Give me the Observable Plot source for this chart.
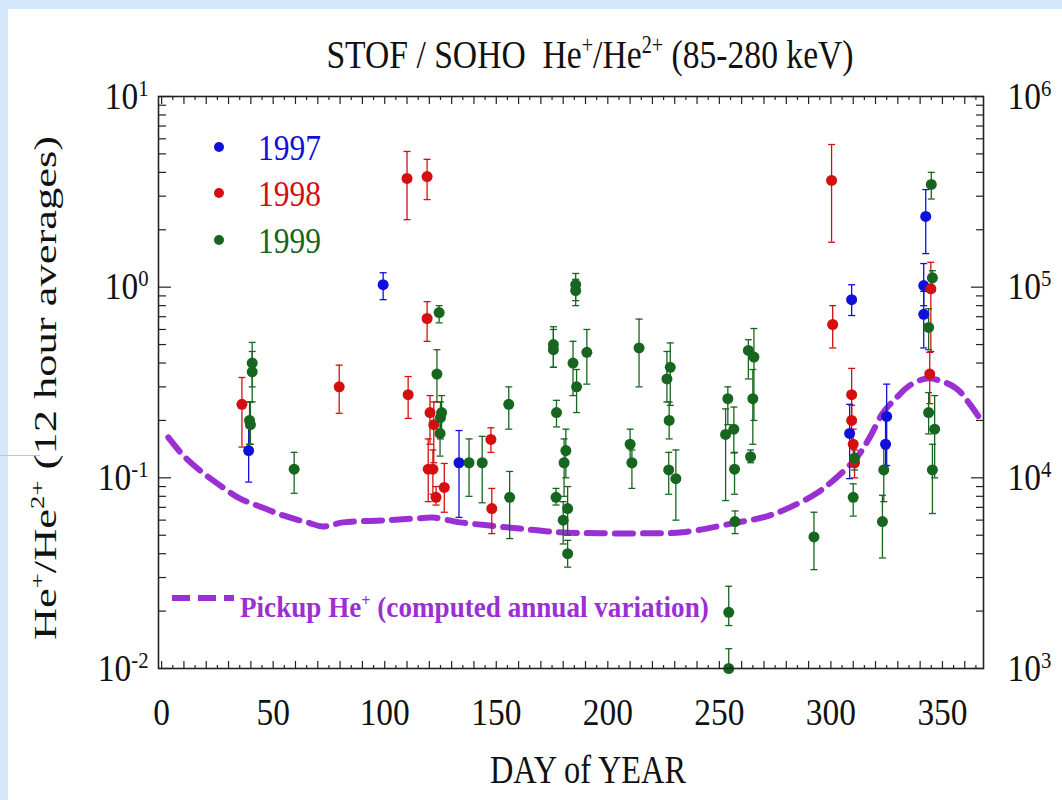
<!DOCTYPE html>
<html><head><meta charset="utf-8">
<script src="https://cdn.jsdelivr.net/npm/d3@7"></script>
<script src="https://cdn.jsdelivr.net/npm/@observablehq/plot@0.6"></script>
<style>
html,body{margin:0;padding:0;}
body{width:1062px;height:800px;position:relative;overflow:hidden;background:#d4e7fb;font-family:"Liberation Serif","Times New Roman",serif;}
#panel{position:absolute;left:8px;top:9px;width:1054px;height:791px;background:#fff;}
#glitch{position:absolute;left:0;top:455px;width:40px;height:1px;background:#a9c9ef;}
#chart{position:absolute;left:0;top:0;width:1062px;height:800px;}
.t{position:absolute;white-space:nowrap;line-height:1;color:#111;}
.t sup{font-size:0.6em;line-height:0;vertical-align:0.6em;}
#title{left:590px;top:54px;font-size:41px;transform:translate(-50%,-50%) scale(0.82,1);}
#xtitle{left:588px;top:769px;font-size:39px;transform:translate(-50%,-50%) scale(0.83,1);}
#ytitle{left:45px;top:388px;font-size:32px;transform:translate(-50%,-50%) rotate(-90deg) scale(1.39,1);}
.yr{font-size:35px;left:258px;transform:translate(0,-50%) scale(0.9,1);transform-origin:left center;}
.ld{position:absolute;width:10px;height:10px;border-radius:50%;transform:translate(-50%,-50%);}
#pick{left:240px;top:607px;font-size:29px;font-weight:bold;color:#9a30d4;transform:translate(0,-50%) scale(0.935,1);transform-origin:left center;}
#pickline{position:absolute;left:172px;top:592px;}
</style></head>
<body>
<div id="panel"></div>
<div id="glitch"></div>
<div id="chart"></div>
<div class="t" id="title">STOF / SOHO&nbsp; He<sup>+</sup>/He<sup>2+</sup> (85-280 keV)</div>
<div class="t" id="xtitle">DAY of YEAR</div>
<div class="t" id="ytitle">He<sup>+</sup>/He<sup>2+</sup> (12 hour averages)</div>
<div class="ld" style="left:219px;top:147px;background:#1010dc"></div>
<div class="ld" style="left:219px;top:193px;background:#d40f0f"></div>
<div class="ld" style="left:219px;top:240px;background:#17661f"></div>
<div class="t yr" style="top:148px;color:#1010dc">1997</div>
<div class="t yr" style="top:194px;color:#d40f0f">1998</div>
<div class="t yr" style="top:241px;color:#17661f">1999</div>
<svg id="pickline" width="64" height="12"><line x1="0" y1="6" x2="62" y2="6" stroke="#9a30d4" stroke-width="6" stroke-dasharray="18,8"/></svg>
<div class="t" id="pick">Pickup He<sup>+</sup> (computed annual variation)</div>
<script>
// ---- data ----
const years = ["1997", "1998", "1999"];
const yearColors = ["#1010dc", "#d40f0f", "#17661f"];

const day1997 = [39, 99.3, 133.3, 308.4, 309.3, 325, 324.5, 341.6, 341.6, 342.5];
const val1997 = [0.139, 1.03, 0.12, 0.171, 0.86, 0.21, 0.15, 1.02, 0.72, 2.35];
const lo1997  = [0.095, 0.86, 0.062, 0.099, 0.71, 0.116, 0.116, 0.80, 0.48, 1.5];
const hi1997  = [0.20, 1.19, 0.177, 0.243, 1.03, 0.31, 0.21, 1.33, 0.95, 3.25];

const day1998 = [36, 79.6, 110, 110.5, 119, 119, 120.3, 122, 119.5, 121.6, 123, 126.7, 147.6, 148, 300.3, 300.8, 309.3, 309.3, 310, 310.6, 344.8, 344.3];
const val1998 = [0.243, 0.30, 3.72, 0.273, 3.80, 0.685, 0.22, 0.19, 0.111, 0.111, 0.079, 0.089, 0.159, 0.069, 3.63, 0.637, 0.273, 0.20, 0.15, 0.12, 0.98, 0.35];
const lo1998  = [0.145, 0.218, 2.26, 0.205, 2.88, 0.52, 0.15, 0.12, 0.075, 0.082, 0.072, 0.066, 0.136, 0.051, 1.72, 0.48, 0.20, 0.15, 0.12, 0.10, 0.46, 0.245];
const hi1998  = [0.336, 0.39, 5.15, 0.34, 4.68, 0.84, 0.27, 0.25, 0.16, 0.14, 0.09, 0.119, 0.183, 0.088, 5.6, 0.80, 0.375, 0.24, 0.18, 0.14, 1.35, 0.455];

const day1999 = [40.6, 40.6, 39.4, 39.8, 59.4, 124.4, 123.4, 125.5, 125, 124.8, 137.8, 143.7, 155.6, 156, 175.6, 175.6, 177, 176.8, 185.6, 185.6, 184.4, 186, 190.6, 181.2, 180.4, 182, 180, 182, 214, 210, 210.8, 226.5, 228, 227.5, 227.3, 230.5, 253.8, 252.8, 256.5, 256.8, 257, 254.2, 254.2, 263, 265.5, 265, 264, 292.4, 310.6, 310, 323.7, 323.1, 345, 345.5, 343.8, 343.8, 346.5, 345.5];
const val1999 = [0.40, 0.36, 0.20, 0.19, 0.111, 0.736, 0.35, 0.22, 0.207, 0.171, 0.12, 0.12, 0.243, 0.079, 0.50, 0.47, 0.22, 0.079, 1.03, 0.96, 0.40, 0.30, 0.455, 0.139, 0.12, 0.069, 0.06, 0.04, 0.48, 0.15, 0.12, 0.33, 0.38, 0.20, 0.11, 0.099, 0.26, 0.169, 0.18, 0.111, 0.059, 0.0197, 0.01, 0.466, 0.43, 0.26, 0.129, 0.049, 0.127, 0.079, 0.11, 0.059, 3.46, 1.12, 0.615, 0.22, 0.18, 0.11];
const lo1999  = [0.30, 0.25, 0.15, 0.15, 0.083, 0.65, 0.25, 0.17, 0.16, 0.13, 0.08, 0.074, 0.18, 0.048, 0.38, 0.38, 0.185, 0.072, 0.85, 0.80, 0.27, 0.22, 0.31, 0.10, 0.08, 0.05, 0.045, 0.034, 0.30, 0.12, 0.088, 0.25, 0.24, 0.16, 0.082, 0.06, 0.19, 0.076, 0.135, 0.082, 0.051, 0.0168, 0.01, 0.33, 0.20, 0.15, 0.12, 0.033, 0.11, 0.063, 0.075, 0.038, 2.9, 0.95, 0.47, 0.17, 0.10, 0.065];
const hi1999  = [0.513, 0.46, 0.25, 0.25, 0.136, 0.80, 0.47, 0.27, 0.25, 0.22, 0.16, 0.165, 0.30, 0.108, 0.62, 0.60, 0.255, 0.088, 1.18, 1.10, 0.52, 0.37, 0.60, 0.18, 0.16, 0.09, 0.075, 0.047, 0.68, 0.18, 0.14, 0.46, 0.51, 0.25, 0.136, 0.14, 0.30, 0.23, 0.235, 0.136, 0.067, 0.027, 0.0127, 0.53, 0.607, 0.37, 0.14, 0.066, 0.15, 0.093, 0.15, 0.081, 4.0, 1.22, 0.77, 0.28, 0.27, 0.15];

const pickupDay = [3, 9.7, 17.3, 26.3, 35, 42.8, 54.5, 65.2, 72.4, 81.4, 99.3, 114.5, 121.7, 133.8, 147, 160.6, 178.5, 196.4, 218.8, 233.6, 256, 271.3, 281.6, 293.6, 302.6, 311.6, 317.4, 323.2, 329.5, 335.3, 342.9, 348.7, 356.3, 362.1, 368];
const pickupVal = [0.163, 0.131, 0.109, 0.091, 0.078, 0.0716, 0.0635, 0.0584, 0.0556, 0.0584, 0.0598, 0.0613, 0.0619, 0.0584, 0.0562, 0.0542, 0.0518, 0.0512, 0.0512, 0.0518, 0.0577, 0.0628, 0.070, 0.083, 0.1005, 0.128, 0.163, 0.218, 0.264, 0.305, 0.332, 0.324, 0.294, 0.245, 0.195];

const xLabelTicks = [0, 50, 100, 150, 200, 250, 300, 350];
const xMajorTicks = [0,10,20,30,40,50,60,70,80,90,100,110,120,130,140,150,160,170,180,190,200,210,220,230,240,250,260,270,280,290,300,310,320,330,340,350,360];
const xMinorTicks = [5,15,25,35,45,55,65,75,85,95,105,115,125,135,145,155,165,175,185,195,205,215,225,235,245,255,265,275,285,295,305,315,325,335,345,355,365];
const yMajorTicks = [0.01, 0.1, 1, 10];
const yMinorTicks = [0.02,0.03,0.04,0.05,0.06,0.07,0.08,0.09,0.2,0.3,0.4,0.5,0.6,0.7,0.8,0.9,2,3,4,5,6,7,8,9];
const yLeftLabels = ["10^-2", "10^-1", "10^0", "10^1"];
const yRightLabels = ["10^3", "10^4", "10^5", "10^6"];

// ---- build table ----
function rows(days, vals, lo, hi, yi) {
  return days.map((d, i) => ({day: d, v: vals[i], lo: lo[i], hi: hi[i], color: yearColors[yi]}));
}
const points = [
  ...rows(day1997, val1997, lo1997, hi1997, 0),
  ...rows(day1998, val1998, lo1998, hi1998, 1),
  ...rows(day1999, val1999, lo1999, hi1999, 2)
];
const pickup = pickupDay.map((d, i) => ({day: d, v: pickupVal[i]}));

const capSymbol = {draw(ctx, size) { const r = Math.sqrt(size / Math.PI); ctx.moveTo(-r, 0); ctx.lineTo(r, 0); }};
const font = "Liberation Serif";
const leftFmt = d => yLeftLabels[yMajorTicks.indexOf(d)];
const rightFmt = d => yRightLabels[yMajorTicks.indexOf(d)];
const blank = () => "";

const W = 1062, H = 800, mL = 158, mR = 79, mT = 96, mB = 132;
const FW = W - mL - mR, FH = H - mT - mB;   // frame size in px (for inward ticks)
const tk = {tickFormat: blank, label: null, stroke: "#222", strokeWidth: 1.2};

const chart = Plot.plot({
  width: W, height: H,
  marginLeft: mL, marginRight: mR, marginTop: mT, marginBottom: mB,
  style: {background: "transparent", fontFamily: font, overflow: "visible"},
  x: {domain: [-1.4, 368.4]},
  y: {type: "log", domain: [0.01, 10]},
  color: {type: "identity"},
  marks: [
    Plot.line(pickup, {x: "day", y: "v", stroke: "#9a30d4", strokeWidth: 6, strokeDasharray: "18,10", curve: "catmull-rom"}),
    Plot.ruleX(points, {x: "day", y1: "lo", y2: "hi", stroke: "color", strokeWidth: 1.3}),
    Plot.dot(points, {x: "day", y: "lo", symbol: capSymbol, r: 3.5, stroke: "color", fill: "none", strokeWidth: 1.3}),
    Plot.dot(points, {x: "day", y: "hi", symbol: capSymbol, r: 3.5, stroke: "color", fill: "none", strokeWidth: 1.3}),
    Plot.dot(points, {x: "day", y: "v", r: 5.5, fill: "color", stroke: "none"}),
    // inward ticks: axes anchored on the opposite side, shifted across the frame
    Plot.axisX(xMajorTicks, {...tk, anchor: "top", tickSize: 8, dy: FH}),
    Plot.axisX(xMinorTicks, {...tk, anchor: "top", tickSize: 4, dy: FH}),
    Plot.axisX(xMajorTicks, {...tk, anchor: "bottom", tickSize: 8, dy: -FH}),
    Plot.axisX(xMinorTicks, {...tk, anchor: "bottom", tickSize: 4, dy: -FH}),
    Plot.axisY(yMajorTicks, {...tk, anchor: "right", tickSize: 12, dx: -FW}),
    Plot.axisY(yMinorTicks, {...tk, anchor: "right", tickSize: 7, dx: -FW}),
    Plot.axisY(yMajorTicks, {...tk, anchor: "left", tickSize: 12, dx: FW}),
    Plot.axisY(yMinorTicks, {...tk, anchor: "left", tickSize: 7, dx: FW}),
    Plot.axisX(xLabelTicks, {anchor: "bottom", tickSize: 0, tickPadding: 30, fontSize: 38, fontFamily: font, fill: "#111", label: null}),
    Plot.axisY(yMajorTicks, {anchor: "left", tickSize: 0, tickPadding: 10, fontSize: 38, fontFamily: font, fill: "#111", tickFormat: leftFmt, label: null}),
    Plot.axisY(yMajorTicks, {anchor: "right", tickSize: 0, tickPadding: 24, fontSize: 38, fontFamily: font, fill: "#111", tickFormat: rightFmt, label: null}),
    Plot.frame({stroke: "#222", strokeWidth: 1.6})
  ]
});
document.getElementById("chart").appendChild(chart);

// condensed serif look + superscript exponents
const svg = d3.select(chart);
svg.selectAll('g[aria-label="x-axis tick label"] text, g[aria-label="y-axis tick label"] text').each(function() {
  const t = d3.select(this);
  const s = this.textContent;
  if (!s) return;
  t.attr("transform", (t.attr("transform") || "") + " scale(0.88,1)");
  const parts = s.split("^");
  if (parts.length === 2) {
    this.textContent = "";
    t.append("tspan").text(parts[0]);
    t.append("tspan").attr("dy", "-0.55em").style("font-size", "0.62em").text(parts[1]);
  }
});
</script>
</body></html>
